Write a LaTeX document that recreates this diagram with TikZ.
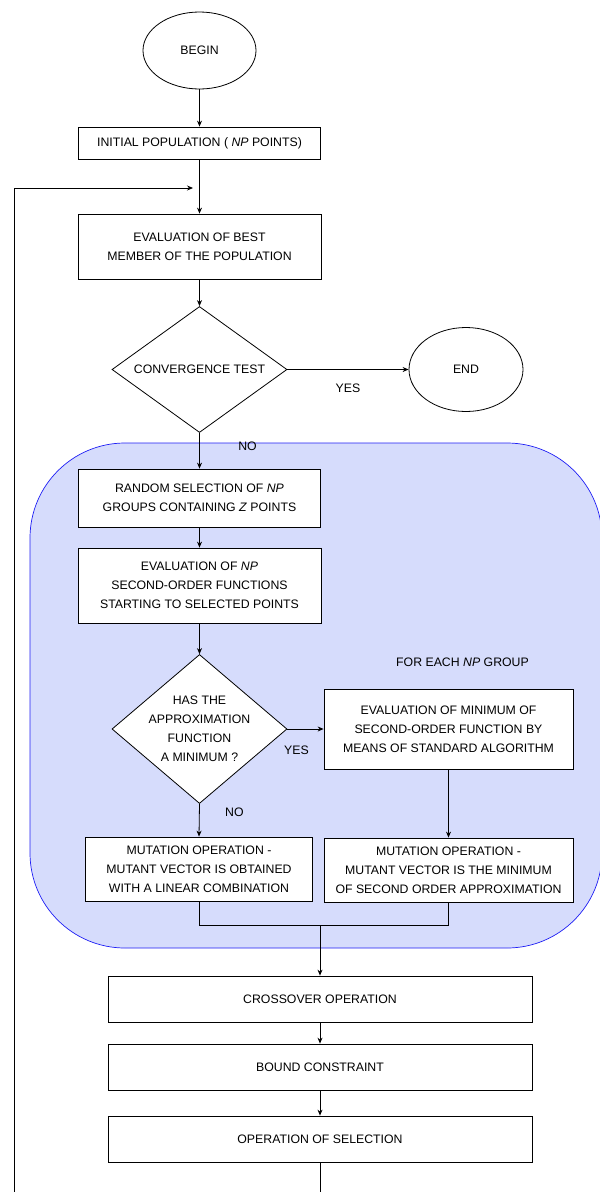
\documentclass[tikz,border=0pt]{standalone}
\usepackage{fontspec}
\setmainfont{Liberation Sans}
\usetikzlibrary{shapes.geometric, arrows.meta, backgrounds}

\definecolor{regionfill}{RGB}{214,220,252}
\definecolor{regionline}{RGB}{30,30,245}

\begin{document}
\begin{tikzpicture}[
    x=1pt, y=-1pt,
    line width=0.8pt,
    font=\fontsize{12.3}{19}\selectfont,
    % Styles
    terminal/.style={ellipse, draw, fill=white, inner sep=0pt},
    process/.style={rectangle, draw, fill=white, align=center, inner sep=0pt},
    decision/.style={diamond, draw, fill=white, align=center, aspect=1.17, inner sep=-6pt},
    group region/.style={fill=regionfill, draw=regionline, line width=0.7pt, rounded corners=95pt},
    arrow/.style={-{Stealth[length=6pt, width=5pt]}},
    flow label/.style={inner sep=0pt}
]
\useasboundingbox (0,0) rectangle (600,1192);

% Start and convergence loop
\node[terminal, minimum width=113pt, minimum height=77pt] (begin) at (199.5,50.5) {BEGIN};
\node[process, minimum width=242pt, minimum height=32pt] (init) at (199.5,143) {INITIAL POPULATION ( \textit{NP} POINTS)};
\node[process, minimum width=243pt, minimum height=65pt] (best) at (199.5,246.5) {EVALUATION OF BEST\\MEMBER OF THE POPULATION};
\node[decision, minimum width=175pt, minimum height=126pt] (conv) at (199.5,369.5) {CONVERGENCE TEST};
\node[terminal, minimum width=114pt, minimum height=84pt] (end) at (466,369.5) {END};

% Second-order approximation block
\node[process, minimum width=242pt, minimum height=58pt] (randsel) at (199.5,498) {RANDOM SELECTION OF \textit{NP}\\GROUPS CONTAINING \textit{Z} POINTS};
\node[process, minimum width=243pt, minimum height=75pt] (evalnp) at (199.5,585.5) {EVALUATION OF \textit{NP}\\SECOND-ORDER FUNCTIONS\\STARTING TO SELECTED POINTS};
\node[decision, minimum width=175pt, minimum height=149pt] (hasmin) at (199.5,729) {HAS THE\\APPROXIMATION\\FUNCTION\\A MINIMUM ?};
\node (foreach) at (462.5,662) {FOR EACH \textit{NP} GROUP};
\node[process, minimum width=249pt, minimum height=80pt] (minsearch) at (448.5,729) {EVALUATION OF MINIMUM OF\\SECOND-ORDER FUNCTION BY\\MEANS OF STANDARD ALGORITHM};
\node[process, minimum width=227pt, minimum height=64pt] (mutlin) at (199,869) {MUTATION OPERATION -\\MUTANT VECTOR IS OBTAINED\\WITH A LINEAR COMBINATION};
\node[process, minimum width=249pt, minimum height=64pt] (mutmin) at (448.5,870) {MUTATION OPERATION -\\MUTANT VECTOR IS THE MINIMUM\\OF SECOND ORDER APPROXIMATION};

% Evolution steps
\node[process, minimum width=424pt, minimum height=46pt] (cross) at (320,999) {CROSSOVER OPERATION};
\node[process, minimum width=424pt, minimum height=46pt] (bound) at (320,1067) {BOUND CONSTRAINT};
\node[process, minimum width=424pt, minimum height=46pt] (select) at (320,1139) {OPERATION OF SELECTION};

\coordinate (join) at (320,925);
\coordinate (loop corner) at (14,1215);
\coordinate (loop in) at (193,188);

% Connections
\draw[arrow] (begin.south) -- (init.north);
\draw[arrow] (init.south) -- (best.north);
\draw[arrow] (best.south) -- (conv.north);
\draw[arrow] (conv.east) -- node[flow label, pos=0.5, yshift=-19pt] {YES} (end.west);
\draw[arrow] (conv.south) -- node[flow label, pos=0.37, xshift=48pt] {NO} (randsel.north);
\draw[arrow] (randsel.south) -- (evalnp.north);
\draw[arrow] (evalnp.south) -- (hasmin.north);
\draw[arrow] (hasmin.east) -- node[flow label, pos=0.25, yshift=-21pt] {YES} (minsearch.west);
\draw[arrow] (hasmin.south) -- node[flow label, pos=0.25, xshift=35pt] {NO} (mutlin.north);
\draw[arrow] (minsearch.south) -- (mutmin.north);
\draw (mutlin.south) |- (join) -| (mutmin.south);
\draw[arrow] (join) -- (cross.north);
\draw[arrow] (cross.south) -- (bound.north);
\draw[arrow] (bound.south) -- (select.north);
\draw[arrow] (select.south) |- (loop corner) |- (loop in);

% Background region
\begin{scope}[on background layer]
    \draw[group region] (30,443) rectangle (602,948);
\end{scope}

\end{tikzpicture}
\end{document}
